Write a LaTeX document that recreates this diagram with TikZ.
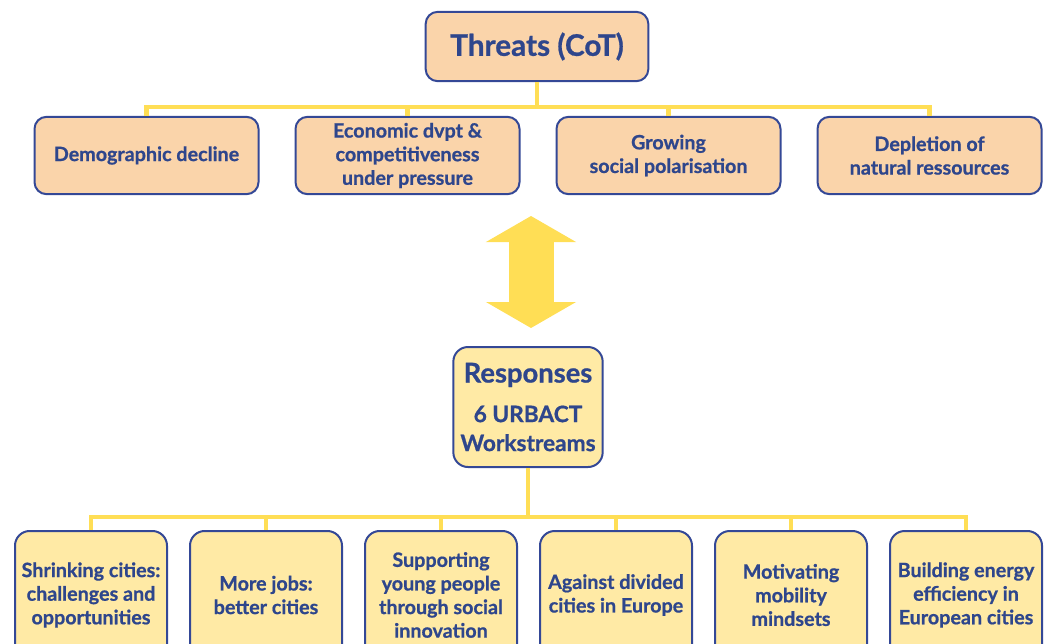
\documentclass[tikz,border=0pt]{standalone}
\usepackage{fontspec}
\setmainfont{Lato}[BoldFeatures={FakeBold=0.8}]
\usepackage{xcolor}
\usetikzlibrary{arrows.meta, positioning}

\definecolor{peach}{RGB}{250,212,170}
\definecolor{butter}{RGB}{255,234,165}
\definecolor{navy}{RGB}{52,72,150}
\definecolor{ink}{RGB}{46,70,140}
\definecolor{sun}{RGB}{255,222,85}

\begin{document}
\begin{tikzpicture}[x=0.75pt, y=-0.75pt,
        % Node Styles
        base/.style={rectangle, draw=navy, line width=1.5pt, rounded corners=9pt, align=center, text=ink, font=\bfseries\fontsize{14.8}{17.7}\selectfont, inner sep=1pt},
        head/.style={base, fill=peach, minimum width=167pt, minimum height=52pt, font=\bfseries\fontsize{22.3}{26}\selectfont},
        threat/.style={base, fill=peach, minimum width=168pt, minimum height=58pt},
        answer/.style={base, fill=butter, minimum width=112pt, minimum height=90pt, rounded corners=11pt},
        stream/.style={base, fill=butter, minimum width=114pt, minimum height=96pt, rounded corners=11pt},
        link/.style={draw=sun, line width=3.6pt, line join=miter},
        bigarrow/.style={draw=sun, line width=33.75pt, {Triangle[width=66.75pt,length=19.5pt]}-{Triangle[width=66.75pt,length=19.5pt]}}
    ]
    \useasboundingbox (0,0) rectangle (1045,643);
    \clip (0,0) rectangle (1045,643);

    % --- 1. Threats ---
    \node[head] (cot) at (537,46.5) {Threats (CoT)};
    \node[threat] (demo) at (146.5,155.5) {Demographic decline};
    \node[threat, right=26.25pt of demo] (econ) {Economic dvpt \&\\competitiveness\\under pressure};
    \node[threat, right=26.25pt of econ] (polar) {Growing\\social polarisation};
    \node[threat, right=26.25pt of polar] (depl) {Depletion of\\natural ressources};

    % --- 2. Responses ---
    \node[answer] (resp) at (528,407) {{\fontsize{20.5}{22}\selectfont Responses}\\[12pt]{\fontsize{17}{21}\selectfont 6 URBACT}\\[4pt]{\fontsize{17}{21}\selectfont Workstreams}};
    \node[stream] (shrink) at (91,595) {Shrinking cities:\\challenges and\\opportunities};
    \node[stream, right=15.75pt of shrink] (jobs) {More jobs:\\better cities};
    \node[stream, right=15.75pt of jobs] (young) {Supporting\\young people\\through social\\innovation};
    \node[stream, right=15.75pt of young] (divid) {Against divided\\cities in Europe};
    \node[stream, right=15.75pt of divid] (mobil) {Motivating\\mobility\\mindsets};
    \node[stream, right=15.75pt of mobil] (energy) {Building energy\\efficiency in\\European cities};

    % --- Routing Connections ---
    \coordinate (tbus) at (537,107);
    \coordinate (bbus) at (528,517);
    \draw[link] (cot.south) -- (tbus);
    \draw[link] (demo.north) -- (demo.north |- tbus) -- (depl.north |- tbus) -- (depl.north);
    \foreach \n in {econ, polar}
        \draw[link] (\n.north |- tbus) -- (\n.north);

    \draw[link] (resp.south) -- (bbus);
    \draw[link] (shrink.north) -- (shrink.north |- bbus) -- (energy.north |- bbus) -- (energy.north);
    \foreach \n in {jobs, young, divid, mobil}
        \draw[link] (\n.north |- bbus) -- (\n.north);

    % Two-way arrow between the rows
    \coordinate (atop) at (531,216);
    \coordinate (abot) at (531,328);
    \draw[bigarrow] (atop) -- (abot);

\end{tikzpicture}
\end{document}
